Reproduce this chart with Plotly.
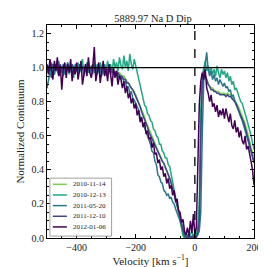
import plotly.graph_objects as go

# Velocity grid [km/s]
velocity = [
    -500, -495, -490, -485, -480, -475, -470, -465, -460, -455,
    -450, -445, -440, -435, -430, -425, -420, -415, -410, -405,
    -400, -395, -390, -385, -380, -375, -370, -365, -360, -355,
    -350, -345, -340, -335, -330, -325, -320, -315, -310, -305,
    -300, -295, -290, -285, -280, -275, -270, -265, -260, -255,
    -250, -245, -240, -235, -230, -225, -220, -215, -210, -205,
    -200, -195, -190, -185, -180, -175, -170, -165, -160, -155,
    -150, -145, -140, -135, -130, -125, -120, -115, -110, -105,
    -100, -95, -90, -85, -80, -75, -70, -65, -60, -55,
    -50, -45, -40, -35, -30, -25, -20, -15, -10, -5,
    0, 5, 10, 15, 20, 25, 30, 35, 40, 45,
    50, 55, 60, 65, 70, 75, 80, 85, 90, 95,
    100, 105, 110, 115, 120, 125, 130, 135, 140, 145,
    150, 155, 160, 165, 170, 175, 180, 185, 190, 195,
    200,
]

flux_2010_11_14 = [
    1.00, 0.98, 1.01, 0.99, 1.00, 1.02, 0.99, 1.00, 0.98, 1.01,
    1.00, 0.99, 1.01, 1.00, 0.98, 1.00, 1.01, 0.99, 1.00, 1.01,
    0.99, 1.00, 1.01, 0.99, 1.00, 0.98, 1.00, 1.01, 0.99, 1.00,
    1.01, 0.99, 1.00, 1.00, 0.99, 1.01, 0.99, 1.00, 0.98, 1.00,
    0.99, 1.00, 0.99, 0.98, 0.99, 0.98, 0.97, 0.98, 0.96, 0.97,
    0.96, 0.95, 0.95, 0.93, 0.92, 0.91, 0.90, 0.88, 0.87, 0.86,
    0.84, 0.82, 0.80, 0.78, 0.76, 0.73, 0.71, 0.68, 0.66, 0.64,
    0.61, 0.59, 0.57, 0.55, 0.53, 0.51, 0.49, 0.47, 0.46, 0.44,
    0.42, 0.40, 0.38, 0.35, 0.33, 0.30, 0.27, 0.23, 0.19, 0.15,
    0.11, 0.05, 0.01, 0.00, 0.01, 0.00, 0.02, 0.00, 0.01, 0.00,
    0.00, 0.01, 0.02, 0.12, 0.65, 0.92, 0.97, 0.95, 0.92, 0.90,
    0.89, 0.88, 0.88, 0.87, 0.86, 0.86, 0.86, 0.85, 0.85, 0.85,
    0.85, 0.84, 0.85, 0.84, 0.84, 0.83, 0.82, 0.81, 0.79, 0.78,
    0.76, 0.74, 0.72, 0.70, 0.67, 0.64, 0.61, 0.57, 0.53, 0.50,
    0.48,
]

flux_2010_12_13 = [
    0.97, 1.01, 0.95, 1.03, 0.99, 0.96, 1.02, 0.98, 1.04, 0.97,
    1.00, 0.95, 1.02, 0.98, 1.03, 0.96, 1.01, 0.99, 0.94, 1.02,
    0.98, 1.03, 0.97, 1.00, 1.05, 0.96, 1.01, 0.98, 1.03, 0.97,
    1.01, 0.96, 1.04, 0.99, 1.02, 0.97, 1.03, 1.00, 0.96, 1.02,
    0.99, 1.04, 0.98, 1.02, 0.97, 1.05, 1.00, 1.03, 0.98, 1.06,
    1.01, 0.99, 1.07, 1.00, 1.04, 0.98, 1.08, 1.02, 0.99, 1.05,
    1.01, 0.97, 0.93, 0.88, 0.84, 0.82, 0.78, 0.77, 0.73, 0.72,
    0.69, 0.68, 0.64, 0.63, 0.60, 0.59, 0.55, 0.55, 0.51, 0.50,
    0.47, 0.47, 0.43, 0.42, 0.37, 0.33, 0.27, 0.24, 0.19, 0.16,
    0.11, 0.06, 0.02, 0.00, 0.03, 0.01, 0.00, 0.02, 0.04, 0.01,
    0.00, 0.02, 0.06, 0.20, 0.75, 0.95, 1.00, 1.04, 0.98, 1.01,
    0.97, 1.00, 0.96, 0.99, 0.95, 1.01, 0.97, 0.94, 0.99, 0.96,
    0.98, 0.94, 0.97, 0.92, 0.95, 0.90, 0.92, 0.87, 0.88, 0.85,
    0.83, 0.80, 0.79, 0.75, 0.73, 0.70, 0.67, 0.64, 0.60, 0.56,
    0.52,
]

flux_2011_05_20 = [
    0.88, 0.93, 0.97, 0.94, 1.00, 0.96, 1.02, 0.98, 0.95, 1.01,
    0.97, 1.02, 0.96, 0.99, 1.03, 0.97, 1.00, 0.95, 1.01, 0.98,
    1.00, 0.96, 1.02, 0.98, 1.01, 0.95, 0.99, 1.03, 0.97, 1.00,
    0.98, 1.02, 0.97, 1.00, 0.96, 1.01, 0.99, 0.95, 1.02, 0.98,
    1.00, 0.97, 1.01, 0.96, 0.99, 0.97, 0.95, 0.98, 0.94, 0.96,
    0.93, 0.95, 0.91, 0.92, 0.88, 0.89, 0.85, 0.86, 0.82, 0.81,
    0.79, 0.76, 0.75, 0.71, 0.70, 0.66, 0.65, 0.62, 0.60, 0.57,
    0.55, 0.51, 0.50, 0.45, 0.43, 0.37, 0.36, 0.33, 0.32, 0.28,
    0.27, 0.25, 0.26, 0.23, 0.24, 0.21, 0.20, 0.17, 0.15, 0.12,
    0.10, 0.07, 0.03, 0.01, 0.00, 0.02, 0.00, 0.01, 0.00, 0.02,
    0.00, 0.01, 0.02, 0.04, 0.15, 0.60, 0.92, 1.02, 1.09, 0.99,
    0.95, 0.98, 0.93, 0.96, 0.92, 0.94, 0.90, 0.93, 0.91, 0.89,
    0.91, 0.88, 0.89, 0.86, 0.87, 0.83, 0.84, 0.80, 0.79, 0.76,
    0.74, 0.71, 0.69, 0.65, 0.63, 0.60, 0.57, 0.54, 0.50, 0.47,
    0.45,
]

flux_2011_12_10 = [
    0.99, 1.01, 0.98, 1.00, 1.02, 0.99, 1.01, 0.98, 1.00, 1.02,
    0.99, 1.01, 1.00, 0.98, 1.01, 1.00, 0.99, 1.02, 1.00, 0.98,
    1.01, 0.99, 1.00, 1.02, 0.99, 1.00, 0.98, 1.01, 1.00, 0.99,
    1.00, 1.02, 0.99, 1.00, 0.98, 1.01, 1.00, 0.99, 1.01, 0.98,
    1.00, 0.99, 0.98, 1.00, 0.97, 0.98, 0.97, 0.96, 0.97, 0.95,
    0.95, 0.94, 0.93, 0.93, 0.91, 0.91, 0.89, 0.88, 0.87, 0.85,
    0.84, 0.81, 0.79, 0.77, 0.74, 0.72, 0.69, 0.67, 0.65, 0.62,
    0.60, 0.58, 0.56, 0.54, 0.52, 0.50, 0.48, 0.47, 0.45, 0.44,
    0.42, 0.40, 0.38, 0.35, 0.32, 0.29, 0.26, 0.22, 0.19, 0.16,
    0.12, 0.08, 0.04, 0.02, 0.01, 0.00, 0.01, 0.00, 0.01, 0.00,
    0.01, 0.00, 0.03, 0.10, 0.60, 0.90, 0.98, 0.96, 0.93, 0.90,
    0.89, 0.87, 0.87, 0.86, 0.86, 0.85, 0.85, 0.84, 0.84, 0.84,
    0.84, 0.83, 0.84, 0.83, 0.83, 0.82, 0.81, 0.80, 0.78, 0.76,
    0.75, 0.73, 0.71, 0.68, 0.65, 0.62, 0.58, 0.55, 0.51, 0.47,
    0.44,
]

flux_2012_01_06 = [
    1.02, 0.96, 1.05, 0.99, 0.93, 1.04, 0.98, 1.06, 0.95, 1.01,
    0.87, 0.99, 1.03, 0.94, 1.02, 0.97, 1.05, 0.92, 1.00, 0.96,
    1.03, 0.93, 0.99, 1.04, 0.90, 0.98, 1.02, 0.95, 1.06, 0.97,
    0.94, 1.01, 1.12, 0.92, 0.99, 1.03, 0.91, 0.97, 1.04, 0.95,
    0.99, 0.92, 1.02, 0.96, 0.89, 1.00, 0.94, 0.98, 0.90, 0.95,
    0.93, 0.88, 0.92, 0.85, 0.89, 0.82, 0.85, 0.79, 0.82, 0.76,
    0.79, 0.72, 0.75, 0.68, 0.71, 0.65, 0.68, 0.61, 0.63, 0.58,
    0.59, 0.53, 0.56, 0.49, 0.50, 0.44, 0.46, 0.40, 0.42, 0.36,
    0.38, 0.32, 0.35, 0.29, 0.31, 0.25, 0.28, 0.21, 0.23, 0.16,
    0.15, 0.09, 0.11, 0.04, 0.02, 0.06, 0.01, 0.10, 0.03, 0.14,
    0.02, 0.06, 0.40, 0.78, 0.92, 0.97, 0.93, 0.99, 0.88, 0.85,
    0.80, 0.84, 0.77, 0.79, 0.74, 0.78, 0.71, 0.75, 0.72, 0.76,
    0.70, 0.76, 0.72, 0.68, 0.73, 0.66, 0.64, 0.69, 0.62, 0.65,
    0.59, 0.63, 0.57, 0.55, 0.60, 0.52, 0.54, 0.48, 0.45, 0.40,
    0.31,
]

dates = ["2010-11-14", "2010-12-13", "2011-05-20", "2011-12-10", "2012-01-06"]
series = [flux_2010_11_14, flux_2010_12_13, flux_2011_05_20, flux_2011_12_10, flux_2012_01_06]
colors = ["#7ad151", "#22a884", "#2a788e", "#414487", "#440154"]

continuum_level = 1.0
rest_velocity = 0.0
x_range = [-500, 200]
y_range = [0.0, 1.25]

font_family = "Liberation Serif, DejaVu Serif, serif"

fig = go.Figure()
for d, f, c in zip(dates, series, colors):
    fig.add_trace(go.Scatter(x=velocity, y=f, mode="lines", name=d,
                             line=dict(color=c, width=1.5)))

fig.add_shape(type="line", xref="paper", yref="y", x0=0, x1=1,
              y0=continuum_level, y1=continuum_level,
              line=dict(color="black", width=1.3))
fig.add_shape(type="line", xref="x", yref="paper", x0=rest_velocity, x1=rest_velocity,
              y0=0, y1=1, line=dict(color="black", width=1.3, dash="dash"))

# Matplotlib-style compact legend (box, line samples, labels) in paper coordinates
leg_box = dict(x0=0.014, x1=0.312, y0=0.009, y1=0.281)
leg_line_x = (0.028, 0.096)
leg_text_x = 0.118
leg_top_y = 0.252
leg_step = 0.05
fig.add_shape(type="rect", xref="paper", yref="paper",
              x0=leg_box["x0"], x1=leg_box["x1"], y0=leg_box["y0"], y1=leg_box["y1"],
              line=dict(color="#a0a0a0", width=1), fillcolor="rgba(255,255,255,0.85)",
              layer="above")
for i, (d, c) in enumerate(zip(dates, colors)):
    yy = leg_top_y - i * leg_step
    fig.add_shape(type="line", xref="paper", yref="paper",
                  x0=leg_line_x[0], x1=leg_line_x[1], y0=yy, y1=yy,
                  line=dict(color=c, width=1.5), layer="above")
    fig.add_annotation(xref="paper", yref="paper", x=leg_text_x, y=yy, text=d,
                       showarrow=False, xanchor="left", yanchor="middle",
                       font=dict(family=font_family, size=7, color="#222"))

axis_common = dict(showgrid=False, zeroline=False, showline=True, linecolor="black",
                   linewidth=1, mirror="ticks", ticks="inside", ticklen=4,
                   tickcolor="black", tickwidth=0.8,
                   tickfont=dict(family=font_family, size=10, color="#222"))

fig.update_xaxes(range=x_range, tickvals=[-400, -200, 0, 200],
                 minor=dict(dtick=50, ticks="inside", ticklen=2, tickcolor="black", tickwidth=0.6),
                 title=dict(text="Velocity [km s<sup>−1</sup>]", standoff=2,
                            font=dict(family=font_family, size=11, color="#222")),
                 **axis_common)
fig.update_yaxes(range=y_range, tickvals=[0.0, 0.2, 0.4, 0.6, 0.8, 1.0, 1.2], tickformat=".1f",
                 minor=dict(dtick=0.05, ticks="inside", ticklen=2, tickcolor="black", tickwidth=0.6),
                 title=dict(text="Normalized Continuum", standoff=4,
                            font=dict(family=font_family, size=11, color="#222")),
                 **axis_common)

fig.update_layout(
    width=266, height=267,
    margin=dict(l=35, r=13, t=17, b=33),
    paper_bgcolor="white", plot_bgcolor="white",
    title=dict(text="5889.97 Na D Dip", x=0.545, xanchor="center", y=0.975, yanchor="top",
               font=dict(family=font_family, size=10.5, color="#222")),
    showlegend=False,
)

fig.write_html("out.html")
